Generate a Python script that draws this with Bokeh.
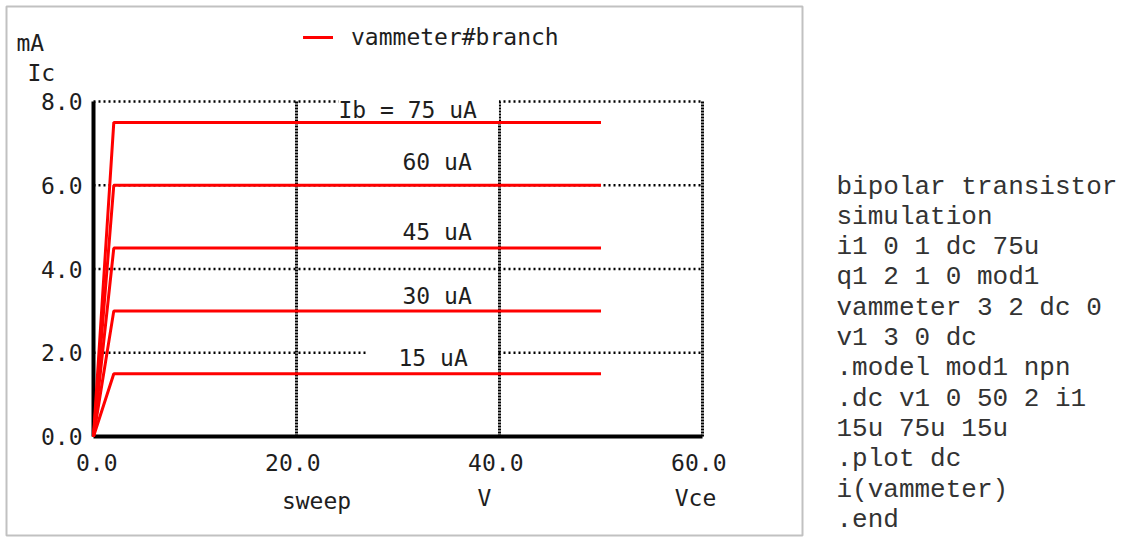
from bokeh.plotting import figure
from bokeh.models import Range1d, Label, Legend, LegendItem, BoxAnnotation
from bokeh.core.properties import value
from bokeh.embed import file_html
from bokeh.resources import INLINE

# ---------------- data ----------------
vce = [0.0, 2.0, 50.0]                 # sweep V (Vce)
ic_15 = [0.0, 1.5, 1.5]                # mA
ic_30 = [0.0, 3.0, 3.0]
ic_45 = [0.0, 4.5, 4.5]
ic_60 = [0.0, 6.0, 6.0]
ic_75 = [0.0, 7.5, 7.5]
series = [ic_15, ic_30, ic_45, ic_60, ic_75]
curve_labels = ["15 uA", "30 uA", "45 uA", "60 uA", "Ib = 75 uA"]
x_ticks = [0, 20, 40, 60]
y_ticks = [0, 2, 4, 6, 8]
x_tick_labels = ["0.0", "20.0", "40.0", "60.0"]
y_tick_labels = ["0.0", "2.0", "4.0", "6.0", "8.0"]
legend_label = "vammeter#branch"
netlist = ["bipolar transistor", "simulation", "i1 0 1 dc 75u",
           "q1 2 1 0 mod1", "vammeter 3 2 dc 0", "v1 3 0 dc",
           ".model mod1 npn", ".dc v1 0 50 2 i1", "15u 75u 15u",
           ".plot dc", "i(vammeter)", ".end"]

# ---------------- layout ----------------
W, H = 1123, 537
FL, FR, FT, FB = 93, 702, 101, 436          # plot area in canvas px
X0, X1, Y0, Y1 = x_ticks[0], x_ticks[-1], y_ticks[0], y_ticks[-1]
PF = "DejaVu Sans Mono"
PS = "23px"
TC = "#1e1e1e"


def dx(px):
    return X0 + (px - FL) * (X1 - X0) / (FR - FL)


def dy(py):
    return Y0 + (FB - py) * (Y1 - Y0) / (FB - FT)


p = figure(width=W, height=H, output_backend="svg", toolbar_location=None,
           tools="", x_range=Range1d(dx(0), dx(W)), y_range=Range1d(dy(H), dy(0)),
           x_axis_type=None, y_axis_type=None,
           min_border=0, min_border_left=0, min_border_right=0,
           min_border_top=0, min_border_bottom=0,
           outline_line_color=None, background_fill_color="white",
           border_fill_color="white")
p.grid.visible = False

# ---- grid (dotted) ----
gx = x_ticks[1:]
p.segment(x0=gx, y0=[Y0] * len(gx), x1=gx, y1=[Y1] * len(gx),
          line_color="black", line_width=3, line_dash="2 1")
gy = y_ticks[1:]
p.segment(x0=[X0] * len(gy), y0=gy, x1=[X1] * len(gy), y1=gy,
          line_color="black", line_width=2.5, line_dash="2 3")

# ---- curve labels (white boxes that interrupt the grid) ----
# (box left px, text centre y px, padding)
label_pos = [(367, 357.5), (400, 295.5), (400, 231.5), (400, 161.5), (338, 109.5)]
label_pad = [dict(left=31, right=30, top=0, bottom=0),
             dict(left=2, right=2, top=0, bottom=0),
             dict(left=2, right=2, top=0, bottom=0),
             dict(left=2, right=2, top=0, bottom=0),
             dict(left=0, right=22, top=0, bottom=0)]
for txt, (cx, cy), pad in zip(curve_labels, label_pos, label_pad):
    p.text(x=[dx(cx)], y=[dy(cy)], text=[txt], text_align="left",
           text_baseline="middle", text_font=value(PF), text_font_size=PS,
           text_color=TC, background_fill_color="white", padding=pad)

# ---- axes lines ----
p.segment(x0=[X0], y0=[Y0], x1=[X0], y1=[Y1], line_color="black", line_width=4)
p.segment(x0=[X0], y0=[Y0], x1=[X1], y1=[Y0], line_color="black", line_width=4)

# ---- tick labels ----
p.text(x=x_ticks, y=[Y0] * len(x_ticks), text=x_tick_labels, text_align="right",
       text_baseline="middle", x_offset=24, y_offset=26, text_font=value(PF),
       text_font_size=PS, text_color=TC)
p.text(x=[X0] * len(y_ticks), y=y_ticks, text=y_tick_labels, text_align="right",
       text_baseline="middle", x_offset=-11, y_offset=0, text_font=value(PF),
       text_font_size=PS, text_color=TC)

# ---- curves ----
renderers = []
for ic in series:
    renderers.append(p.line(vce, ic, line_color="#ff0000", line_width=3))

legend = Legend(items=[LegendItem(label=legend_label, renderers=renderers)],
                location=(303, H - 50), orientation="horizontal",
                glyph_width=30, glyph_height=20, label_standoff=18,
                padding=0, margin=0, border_line_color=None,
                background_fill_alpha=0, label_text_font=PF,
                label_text_font_size=PS, label_text_color=TC)
p.add_layout(legend)


def lab(text, cx, cy, align="left", baseline="middle", font=PF, size=PS, color=TC):
    p.add_layout(Label(x=dx(cx), y=dy(cy), text=text, text_align=align,
                       text_baseline=baseline, text_font=font,
                       text_font_size=size, text_color=color))


lab("mA", 16, 42)
lab("Ic", 27, 72)
lab("sweep", 316, 500, align="center")
lab("V", 484, 497, align="center")
lab("Vce", 695, 497, align="center")

for i, line in enumerate(netlist):
    lab(line, 836, 186 + i * 30.3, baseline="alphabetic",
        font="Liberation Mono", size="26px", color="#333333")

p.add_layout(BoxAnnotation(left=dx(6), right=dx(802), top=dy(6), bottom=dy(535),
                           fill_alpha=0, line_color="#333333", line_width=2))

open("out.html", "w").write(file_html(p, INLINE))
